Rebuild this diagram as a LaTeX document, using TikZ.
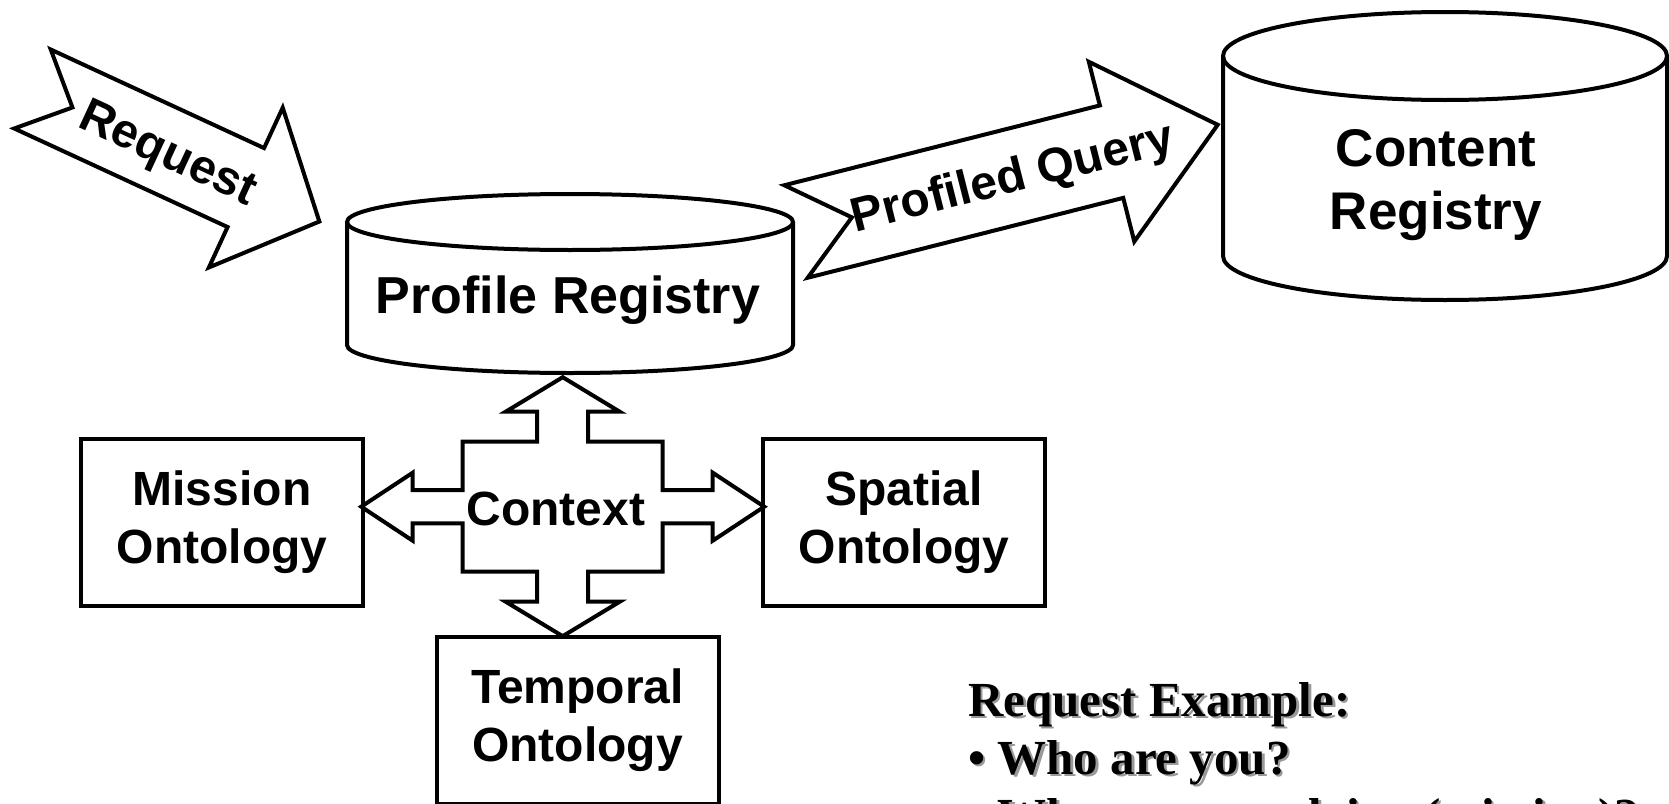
\documentclass[tikz,border=0pt]{standalone}
\usepackage{fontspec}
\setmainfont{Liberation Sans}
\newfontfamily\examplefont{Liberation Serif}
\tikzset{ontology/.style =
   {rectangle,
    draw,
    line width=4pt,
    fill=white,
    text centered,
    align=center,
    minimum width=282pt,
    minimum height=167pt,
    font=\fontsize{48}{58}\selectfont\bfseries}}
\tikzset{registry/.style =
   {draw,
    line width=4pt,
    fill=white}}
\tikzset{registry-text/.style =
   {align=center,
    inner sep=0pt,
    font=\fontsize{53}{63}\selectfont\bfseries}}
\tikzset{block-arrow/.style = {draw, line width=4pt, fill=white}}
\tikzset{arrow-text/.style =
   {inner sep=0pt,
    font=\fontsize{48}{58}\selectfont\bfseries}}
\tikzset{example/.style =
   {anchor=base west,
    inner sep=0pt,
    font=\examplefont\fontsize{49}{58}\selectfont\bfseries}}

\begin{document}
\begin{tikzpicture}[x=1pt, y=-1pt]

    \useasboundingbox (0,0) rectangle (1669,803);
    \fill[white] (0,0) rectangle (1669,803);
    \clip (0,0) rectangle (1669,803);

    % profile registry
    \path[registry] (347,222) -- (347,345)
        arc[start angle=180, end angle=360, x radius=223pt, y radius=28pt]
        -- (793,222)
        arc[start angle=0, end angle=180, x radius=223pt, y radius=28pt] -- cycle;
    \draw[line width=4pt] (347,222)
        arc[start angle=180, end angle=360, x radius=223pt, y radius=28pt];
    \node [registry-text,
           font=\fontsize{52}{62}\selectfont\bfseries] (profile) at (568,300)
    {Profile Registry};

    % content registry
    \path[registry] (1223,56) -- (1223,256)
        arc[start angle=180, end angle=360, x radius=222pt, y radius=44pt]
        -- (1667,56)
        arc[start angle=0, end angle=180, x radius=222pt, y radius=44pt] -- cycle;
    \draw[line width=4pt] (1223,56)
        arc[start angle=180, end angle=360, x radius=222pt, y radius=44pt];
    \node [registry-text] (content) at (1436,185) {Content\\Registry};

    % ontologies
    \node [ontology] (mission)  at (222,522)   {Mission\\Ontology};
    \node [ontology] (spatial)  at (904,522)   {Spatial\\Ontology};
    \node [ontology] (temporal) at (577.5,720) {Temporal\\Ontology};

    % context cross
    \draw[block-arrow, shift={(562.7,506.7)}]
        (0,-129.5) -- (57,-95) -- (25.5,-95) -- (25.5,-65) -- (100,-65)
        -- (100,-16.7) -- (150,-16.7) -- (150,-34) -- (201.5,0) -- (150,34)
        -- (150,16.7) -- (100,16.7) -- (100,65) -- (25.5,65) -- (25.5,95)
        -- (57,95) -- (0,129.5) -- (-57,95) -- (-25.5,95) -- (-25.5,65)
        -- (-100,65) -- (-100,16.7) -- (-150,16.7) -- (-150,34) -- (-201.5,0)
        -- (-150,-34) -- (-150,-16.7) -- (-100,-16.7) -- (-100,-65)
        -- (-25.5,-65) -- (-25.5,-95) -- (-57,-95) -- cycle;
    \node [arrow-text] (context) at (556,508.5) {Context};

    % request arrow
    \begin{scope}[shift={(32.5,89)}, rotate=-24.8]
        \draw[block-arrow] (0,-43.5) -- (235,-43.5) -- (235,-88) -- (316,0)
            -- (235,88) -- (235,43.5) -- (0,43.5) -- (44,0) -- cycle;
        \node [arrow-text, transform shape] (request) at (150,4) {Request};
    \end{scope}

    % profiled query arrow
    \begin{scope}[shift={(796,231.5)}, rotate=14.2]
        \draw[block-arrow] (0,-47.7) -- (325.5,-47.7) -- (325.5,-92.7) -- (435,0)
            -- (325.5,92.7) -- (325.5,47.7) -- (0,47.7) -- (57.6,0) -- cycle;
        \node [arrow-text, transform shape] (query) at (223,3) {Profiled Query};
    \end{scope}

    % request example
    \foreach \line [count=\i] in {Request Example:,
                                  {\textbullet\ Who are you?},
                                  {\textbullet\ What are you doing (mission)?}}
    {
        \node [example, text=black!40] (shadow\i) at (970.5,660.5+58*\i) {\line};
        \node [example] (example\i) at (968,658+58*\i) {\line};
    }

\end{tikzpicture}
\end{document}
